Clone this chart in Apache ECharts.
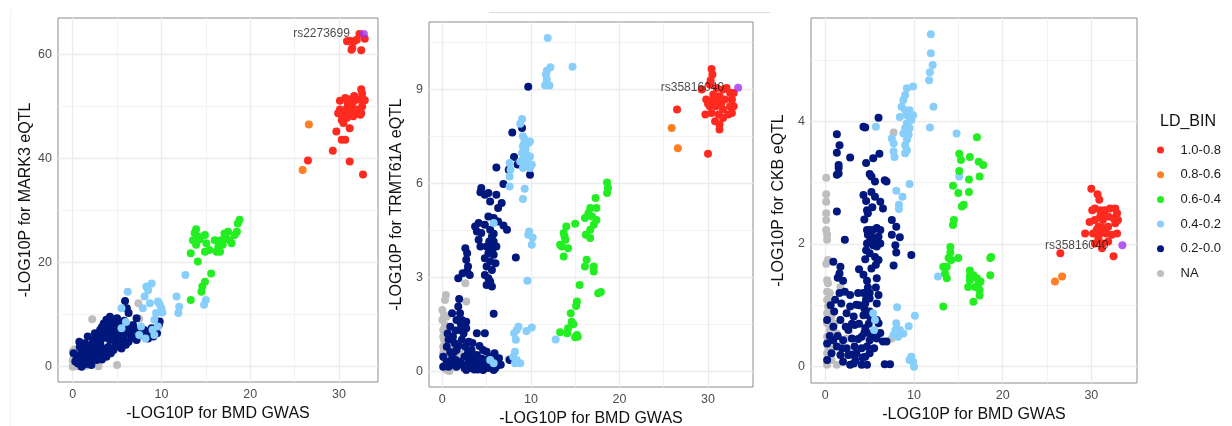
<!DOCTYPE html>
<html><head><meta charset="utf-8">
<script src="https://cdn.jsdelivr.net/npm/echarts@6/dist/echarts.min.js"></script>
<style>html,body{margin:0;padding:0;background:#fff}#c{width:1232px;height:426px}</style>
</head><body><div id="c"></div>
<script>
// ---------- categories / ticks ----------
const ldBins = ['1.0-0.8', '0.8-0.6', '0.6-0.4', '0.4-0.2', '0.2-0.0', 'NA'];
const xTitle = '-LOG10P for BMD GWAS';
const yTitles = ['-LOG10P for MARK3 eQTL', '-LOG10P for TRMT61A eQTL', '-LOG10P for CKB eQTL'];
const leadSnps = ['rs2273699', 'rs35816040', 'rs35816040'];
const xTicks = [0, 10, 20, 30];
const xMinorTicks = [5, 15, 25];
const mark3YTicks = [0, 20, 40, 60];
const mark3YMinor = [10, 30, 50];
const trmtYTicks = [0, 3, 6, 9];
const trmtYMinor = [1.5, 4.5, 7.5, 10.5];
const ckbYTicks = [0, 2, 4];
const ckbYMinor = [1, 3, 5];

// ---------- MARK3 panel ----------
const mark3Lead = [[32.8, 63.9]];
const mark3Red = [[32.3,63.9],[31.2,62.6],[31.7,62.5],[31.5,61.2],[31.4,60.9],[32.5,60.8],[32.9,63.0],[30.9,62.5],[32.0,62.8],[32.5,53.3],[31.2,51.3],[30.1,51.1],[30.7,51.6],[31.6,50.9],[32.2,51.3],[32.7,51.3],[32.6,50.0],[31.4,50.0],[30.9,49.7],[30.1,49.4],[30.5,48.4],[31.2,48.7],[32.0,49.4],[32.4,48.4],[30.3,47.4],[30.9,47.8],[31.6,48.1],[30.5,46.8],[31.2,45.8],[29.7,45.2],[30.3,43.6],[30.7,43.6],[29.3,41.5],[31.2,39.4],[26.5,39.6],[32.7,36.9],[31.7,52.0],[31.0,50.6],[29.9,48.7],[32.5,48.7],[32.9,51.2],[31.8,48.7],[32.6,52.5]];
const mark3Orange = [[26.6,46.5],[25.9,37.8]];
const mark3Green = [[13.74,25.7],[14.1,25.0],[13.55,24.3],[13.9,23.4],[14.9,25.3],[15.05,23.7],[15.4,22.4],[14.9,22.1],[13.3,21.8],[14.1,20.2],[15.6,17.9],[14.9,16.3],[14.6,15.4],[14.5,14.4],[13.3,12.8],[16.0,24.3],[16.4,23.0],[16.2,22.1],[16.7,24.3],[17.1,25.6],[17.5,25.9],[17.3,24.6],[16.9,23.4],[17.7,24.3],[17.9,23.7],[16.6,22.1],[18.6,27.5],[18.8,28.2],[18.5,25.9],[18.25,25.3],[13.9,26.4],[14.3,24.5]];
const mark3LightBlue = [[6.2,14.4],[8.3,15.4],[8.9,16.0],[8.1,13.5],[8.7,12.2],[7.9,11.2],[5.5,11.2],[9.6,12.5],[10.0,11.2],[9.4,10.3],[9.2,9.0],[9.0,7.1],[9.2,6.1],[7.7,7.7],[7.5,6.1],[5.5,7.4],[11.7,13.5],[12.0,11.5],[11.9,10.3],[12.7,17.6],[15.0,12.8],[14.8,11.9],[9.6,7.7],[8.5,14.7],[9.8,12.0],[10.1,10.4],[8.2,5.4],[6.0,8.6]];
const mark3Navy = [[5.9,12.6],[6.1,11.2],[6.3,10.3],[5.8,8.8],[7.2,9.3],[4.8,9.0],[4.2,9.6],[3.8,9.0],[3.5,8.3],[4.4,8.3],[5.0,8.0],[4.0,7.4],[3.1,7.1],[2.5,6.4],[3.5,6.4],[4.6,6.7],[5.3,7.1],[6.1,7.4],[7.0,7.1],[8.0,7.1],[8.3,6.4],[8.9,7.4],[9.7,8.0],[9.8,8.7],[9.1,5.8],[7.6,6.1],[6.6,5.8],[5.7,5.4],[5.0,4.8],[4.2,5.1],[3.1,4.5],[2.3,5.1],[2.0,3.8],[1.4,4.5],[0.75,4.8],[1.0,3.2],[1.6,2.6],[2.7,3.2],[3.5,3.5],[4.0,3.8],[4.6,3.2],[5.5,3.5],[5.3,4.5],[2.3,1.9],[3.1,2.2],[3.8,1.9],[1.2,1.3],[2.0,1.0],[1.0,0.0],[0.45,1.6],[0.1,2.6],[1.7,5.8],[3.3,5.8],[4.4,5.8],[3.8,6.4],[4.2,7.4],[3.7,8.0],[5.0,9.3],[2.9,3.8],[3.6,2.9],[4.8,4.2],[6.3,4.8],[7.2,5.1],[8.5,5.4],[9.5,6.4],[1.8,3.5],[0.8,2.2],[0.6,0.6],[2.1,0.3],[2.7,1.3],[6.1,6.4],[6.8,8.0],[0.8,3.8],[3.9,8.6],[4.5,7.8],[3.3,7.6],[2.8,5.6],[4.9,6.0],[5.6,6.2],[2.5,2.5],[3.3,1.4],[1.5,1.8],[4.3,2.6],[3.0,6.0],[3.5,7.0],[4.0,8.0],[4.5,9.0],[4.8,8.5],[4.2,8.8],[3.6,7.6],[4.0,6.8],[4.6,7.2],[5.2,7.6],[5.5,8.3],[3.2,5.2],[3.9,5.5],[4.6,5.4],[2.6,4.2],[2.0,2.8],[1.3,2.0],[0.7,1.1],[1.8,1.5],[2.6,2.0],[3.4,2.5],[4.2,3.3],[5.0,3.9],[6.0,4.2],[6.8,5.6],[7.8,6.6],[8.7,6.9],[9.3,7.2],[5.8,6.8],[6.5,6.9],[1.0,2.5],[0.3,1.0],[1.5,0.5],[3.0,3.0],[2.2,4.3]];
const mark3NA = [[0.0,0.0],[0.2,0.5],[0.4,1.0],[0.1,1.6],[0.3,2.2],[0.0,2.9],[0.6,2.6],[0.8,0.3],[1.0,1.9],[0.5,0.1],[1.2,0.6],[0.9,1.2],[0.2,3.3],[1.5,0.2],[2.9,0.1],[5.0,0.3],[2.2,9.1],[7.4,12.2],[7.5,9.2],[0.6,1.6],[0.0,1.2],[1.8,0.9]];

// ---------- TRMT61A panel ----------
const trmtLead = [[33.4, 9.06]];
const trmtRed = [[30.4,9.66],[30.5,9.48],[30.2,9.16],[29.3,9.0],[31.0,9.05],[31.7,9.0],[32.1,9.05],[32.5,8.89],[31.3,8.79],[30.6,8.68],[31.9,8.68],[32.7,8.68],[30.2,8.47],[30.9,8.47],[31.7,8.36],[32.5,8.47],[32.7,8.25],[29.7,8.2],[30.4,8.25],[31.2,8.2],[31.7,8.09],[30.8,7.99],[31.3,7.88],[31.3,7.72],[30.0,6.95],[26.5,8.36],[30.6,8.84],[29.8,8.68],[32.3,8.2],[31.5,8.57],[32.9,8.89],[32.9,8.47],[30.3,9.3],[31.0,8.6],[30.0,8.55]];
const trmtOrange = [[25.9,7.77],[26.6,7.12]];
const trmtGreen = [[18.6,6.03],[18.7,5.85],[18.6,5.69],[17.3,5.53],[17.4,5.21],[16.7,5.21],[16.5,5.05],[16.9,4.94],[16.1,4.89],[17.4,4.83],[17.1,4.68],[16.7,4.52],[16.2,4.36],[16.7,4.25],[15.0,4.71],[14.0,4.62],[13.7,4.41],[13.9,4.2],[13.5,3.98],[13.8,4.3],[14.2,3.93],[13.3,4.04],[13.7,3.66],[16.3,3.56],[16.1,3.34],[17.1,3.34],[17.1,3.18],[15.5,2.75],[17.6,2.49],[17.9,2.53],[15.2,2.22],[15.1,2.08],[14.5,1.85],[14.6,1.58],[14.8,1.5],[14.2,1.37],[13.3,1.24],[14.1,1.21],[15.2,1.15],[15.3,1.1],[15.0,1.08]];
const trmtLightBlue = [[11.9,10.65],[12.2,9.71],[11.8,9.6],[11.7,9.48],[11.8,9.32],[11.6,9.14],[12.1,9.13],[14.7,9.73],[9.0,8.06],[8.8,7.91],[9.1,7.51],[9.3,7.4],[9.1,7.19],[9.7,7.29],[9.9,7.34],[9.0,6.97],[9.5,6.92],[9.9,6.86],[9.1,6.76],[9.5,6.65],[9.1,6.49],[10.1,6.6],[8.8,6.7],[9.9,6.49],[7.6,6.65],[7.7,6.44],[7.6,6.22],[7.6,5.9],[9.3,5.83],[9.1,5.5],[5.8,4.73],[9.8,4.46],[9.7,4.36],[10.2,4.27],[10.1,4.04],[9.6,2.89],[10.1,1.39],[9.5,1.28],[8.6,1.42],[8.4,1.31],[8.1,1.21],[8.3,1.0],[12.8,1.01],[8.2,0.62],[8.0,0.46],[8.4,0.35],[8.8,0.25],[8.2,0.25],[5.4,0.35],[5.8,0.25],[9.4,7.1],[9.2,7.25],[9.6,6.8]];
const trmtNavy = [[9.7,9.09],[7.9,7.63],[9.0,7.77],[8.1,6.84],[8.5,6.6],[7.5,6.44],[9.9,6.28],[6.1,6.51],[6.9,5.98],[4.4,5.85],[4.3,5.72],[4.8,5.64],[5.2,5.69],[6.1,5.64],[5.4,5.42],[6.7,5.37],[6.3,5.21],[5.2,4.94],[5.8,4.89],[6.3,4.78],[4.8,4.68],[4.1,4.73],[3.7,4.62],[3.9,4.46],[4.4,4.41],[5.4,4.52],[5.8,4.39],[6.9,4.65],[7.3,4.52],[4.1,4.2],[4.3,3.98],[5.6,4.3],[5.3,4.14],[5.8,4.14],[5.0,3.98],[5.7,3.93],[6.1,3.98],[5.2,3.77],[5.8,3.72],[4.8,3.61],[5.4,3.5],[6.0,3.45],[5.0,3.34],[5.6,3.23],[4.8,3.07],[5.2,2.97],[5.0,2.75],[5.6,2.7],[5.4,2.86],[2.6,3.93],[2.8,3.77],[2.7,3.56],[2.9,3.34],[2.8,3.18],[1.8,2.97],[2.3,3.13],[3.1,3.07],[8.3,3.63],[5.8,1.83],[1.8,2.06],[2.0,1.85],[1.1,1.85],[1.6,1.63],[2.2,1.63],[2.7,1.58],[0.9,1.42],[2.0,1.31],[2.7,1.37],[3.9,1.21],[4.8,1.21],[1.2,1.1],[2.2,1.0],[3.0,0.94],[0.5,0.78],[1.6,0.67],[2.6,0.78],[3.3,0.67],[4.6,0.67],[5.0,0.62],[6.1,0.35],[6.3,0.19],[5.0,0.14],[3.9,0.14],[2.9,0.19],[1.6,0.14],[0.7,0.14],[2.0,0.3],[3.5,0.35],[4.3,0.25],[5.4,0.3],[1.1,0.4],[2.5,0.46],[3.9,0.51],[0.1,0.14],[0.1,0.46],[1.4,0.89],[0.7,1.0],[7.6,0.35],[4.4,0.4],[3.1,0.46],[5.9,0.57],[5.4,0.46],[2.7,0.03],[4.6,0.03],[5.8,0.03],[6.4,0.41],[3.4,0.14],[4.3,0.14],[1.3,0.6],[2.3,0.2],[3.7,0.3],[4.9,0.35],[6.0,0.1],[0.5,0.3],[1.0,0.2],[1.5,0.35],[2.5,0.1],[3.0,0.3],[3.6,0.05],[4.0,0.35],[4.8,0.2],[5.2,0.1],[5.6,0.4],[0.9,0.6],[1.8,0.8],[2.4,1.2],[1.5,1.3],[0.6,1.2],[1.9,2.3],[2.1,1.5],[3.4,0.9],[2.9,0.6],[4.2,0.8],[6.6,0.2],[5.5,0.15],[4.0,0.05],[3.2,0.1]];
const trmtNA = [[0.4,2.43],[2.6,2.81],[2.7,2.22],[0.0,1.95],[0.2,1.79],[0.0,1.63],[0.3,1.47],[0.1,1.31],[0.5,1.15],[0.2,0.99],[0.7,0.89],[0.1,0.78],[1.1,0.67],[0.1,0.57],[0.7,0.51],[0.3,0.35],[0.9,0.25],[0.1,0.14],[0.5,0.03],[1.4,0.14],[1.6,0.4],[2.0,0.57],[7.5,0.38],[0.1,1.1],[0.5,1.74],[1.1,0.94],[0.3,2.27],[0.6,1.4],[0.3,0.7],[0.8,0.0]];

// ---------- CKB panel ----------
const ckbLead = [[33.5, 1.98]];
const ckbRed = [[30.0,2.90],[30.7,2.81],[30.9,2.72],[30.1,2.55],[30.4,2.58],[31.0,2.55],[31.5,2.55],[32.1,2.58],[32.7,2.58],[32.9,2.5],[29.8,2.36],[30.4,2.39],[31.0,2.45],[31.3,2.39],[31.9,2.45],[32.5,2.42],[33.0,2.39],[30.8,2.28],[31.3,2.26],[31.9,2.28],[32.7,2.34],[29.3,2.17],[30.2,2.17],[31.0,2.17],[31.7,2.17],[32.3,2.15],[30.8,2.09],[31.3,2.01],[31.2,1.93],[32.5,1.80],[26.5,1.85],[30.4,2.01],[31.9,2.04],[32.9,2.17],[31.3,2.5],[30.6,2.23]];
const ckbOrange = [[25.9,1.39],[26.7,1.47]];
const ckbGreen = [[17.1,3.74],[15.1,3.47],[15.3,3.37],[16.3,3.42],[17.3,3.34],[17.8,3.29],[15.1,3.19],[17.4,3.1],[16.2,3.05],[14.4,2.95],[15.0,2.83],[16.2,2.85],[15.4,2.61],[15.6,2.64],[14.5,2.39],[14.4,2.31],[14.1,1.95],[14.1,1.86],[13.9,1.77],[14.2,1.74],[15.0,1.77],[13.3,1.63],[13.7,1.63],[13.5,1.52],[13.7,1.44],[13.3,0.98],[16.3,1.57],[16.7,1.49],[17.1,1.44],[16.3,1.41],[17.3,1.36],[16.1,1.3],[16.9,1.3],[17.4,1.25],[17.4,1.16],[16.7,1.06],[18.6,1.77],[18.7,1.79],[18.6,1.49],[16.3,1.48],[17.5,1.39]];
const ckbLightBlue = [[11.9,5.42],[11.9,5.11],[12.1,4.92],[11.8,4.8],[11.7,4.67],[12.2,4.24],[11.8,3.9],[9.9,4.57],[9.2,4.54],[9.0,4.43],[8.8,4.35],[8.6,4.24],[9.0,4.18],[9.5,4.18],[9.9,4.1],[9.2,4.1],[8.4,4.07],[9.7,4.02],[9.2,3.97],[9.0,3.89],[9.5,3.89],[8.8,3.8],[9.4,3.78],[9.2,3.7],[9.0,3.61],[9.2,3.53],[9.0,3.48],[7.5,3.72],[7.7,3.64],[7.7,3.51],[7.8,3.42],[5.7,3.91],[14.8,3.8],[15.1,3.1],[9.5,2.98],[8.0,2.87],[8.7,2.77],[8.3,2.64],[8.3,2.57],[12.7,1.47],[8.1,0.97],[10.1,0.83],[8.0,0.71],[7.9,0.6],[8.4,0.6],[8.8,0.54],[7.7,0.52],[8.2,0.49],[9.4,0.66],[5.4,0.87],[5.6,0.76],[5.5,0.6],[9.7,0.16],[9.9,0.08],[10.0,0.0],[9.5,0.11]];
const ckbNavy = [[6.0,4.06],[4.3,3.91],[4.5,3.9],[1.3,3.79],[1.6,3.61],[1.3,3.49],[2.8,3.41],[1.5,3.29],[1.5,3.24],[1.5,3.15],[1.3,3.13],[4.6,3.32],[5.4,3.4],[6.1,3.47],[5.0,3.14],[5.2,3.1],[5.6,3.02],[6.7,3.04],[6.9,3.02],[4.3,2.8],[5.2,2.85],[5.6,2.77],[6.2,2.69],[4.7,2.55],[4.8,2.5],[1.3,2.53],[6.5,2.58],[4.7,2.23],[5.0,2.23],[5.4,2.23],[5.8,2.26],[6.2,2.23],[4.8,2.15],[5.2,2.12],[5.6,2.09],[6.0,2.12],[4.7,2.01],[5.0,2.04],[5.4,1.98],[5.8,1.96],[6.2,2.01],[4.6,1.9],[5.0,1.85],[5.6,1.79],[6.0,1.74],[5.7,1.66],[7.5,2.39],[8.0,2.28],[7.5,2.15],[8.4,2.11],[7.9,1.98],[8.0,1.86],[9.7,1.82],[2.2,2.07],[7.7,1.65],[3.8,1.59],[1.7,1.63],[1.6,1.52],[0.9,1.71],[4.7,1.4],[5.8,1.44],[4.8,1.29],[5.7,1.29],[1.6,1.2],[2.8,1.17],[2.2,1.22],[3.7,1.2],[4.3,1.2],[5.0,1.2],[6.0,1.17],[5.0,1.11],[5.8,1.03],[1.1,1.09],[1.8,1.03],[2.8,0.98],[3.5,1.01],[4.5,1.03],[2.4,0.87],[3.2,0.82],[4.3,0.84],[5.0,0.9],[5.8,0.76],[6.0,0.71],[0.2,0.76],[0.9,0.65],[1.7,0.76],[2.6,0.6],[3.3,0.68],[4.5,0.63],[5.0,0.54],[4.1,0.49],[3.0,0.46],[2.0,0.43],[0.9,0.43],[0.2,0.38],[1.3,0.33],[2.4,0.3],[3.3,0.33],[4.1,0.3],[4.7,0.33],[5.0,0.22],[4.5,0.16],[3.5,0.22],[2.6,0.19],[1.7,0.19],[0.7,0.22],[0.2,0.11],[2.0,0.08],[3.2,0.05],[4.1,0.03],[4.7,0.03],[2.8,0.03],[6.7,0.04],[7.3,0.04],[5.8,0.46],[6.5,0.41],[6.9,0.41],[5.0,0.82],[5.4,0.49],[5.0,0.43],[4.4,0.95],[3.8,0.7],[4.6,1.1],[4.4,0.55],[0.5,0.5],[1.0,0.9],[1.4,0.5],[2.3,0.65],[3.0,0.7],[3.7,0.45],[4.2,0.15],[4.9,0.7],[1.9,0.3],[2.9,0.2],[3.8,1.0],[4.3,1.5],[4.5,1.75],[4.4,2.4],[5.3,2.6],[1.4,1.45],[0.6,1.0],[2.0,1.4],[4.6,2.7],[5.5,0.3],[6.2,0.55],[5.2,1.6],[3.4,0.1]];
const ckbNA = [[0.1,3.08],[0.1,2.81],[0.1,2.69],[0.1,2.5],[0.1,2.39],[0.1,2.23],[0.2,2.15],[0.2,2.07],[0.1,1.68],[0.3,1.74],[0.2,1.41],[0.3,1.36],[1.7,1.3],[0.2,1.22],[0.5,1.2],[0.2,1.09],[0.3,0.98],[0.2,0.87],[0.7,0.82],[0.2,0.71],[0.5,0.6],[1.3,0.54],[0.2,0.49],[0.9,0.38],[0.3,0.33],[0.2,0.22],[0.7,0.11],[0.2,0.03],[1.3,0.03],[2.0,0.16],[7.7,3.82],[7.5,0.46],[2.4,0.46],[0.6,0.3],[1.0,0.7],[0.4,0.9]];

// ---------- styles (not data) ----------
const binColors = { '1.0-0.8': '#FF2A1F', '0.8-0.6': '#FF7F24', '0.6-0.4': '#22EE22', '0.4-0.2': '#87CEFA', '0.2-0.0': '#00177D', 'NA': '#BEBEBE' };
const leadColor = '#A032F0';
const FONT = '"Liberation Sans", Arial, Helvetica, sans-serif';
const POINT = 8;

const panels = [
  { grid: { left: 58, top: 18, width: 320, height: 364 }, x: [-1.652, 34.39], y: [-2.945, 66.98], yTicks: mark3YTicks, yMinor: mark3YMinor,
    sets: { 'NA': mark3NA, '0.2-0.0': mark3Navy, '0.4-0.2': mark3LightBlue, '0.6-0.4': mark3Green, '0.8-0.6': mark3Orange, '1.0-0.8': mark3Red }, lead: mark3Lead },
  { grid: { left: 429, top: 22, width: 324, height: 365 }, x: [-1.505, 35.08], y: [-0.51, 11.16], yTicks: trmtYTicks, yMinor: trmtYMinor,
    sets: { 'NA': trmtNA, '0.2-0.0': trmtNavy, '0.4-0.2': trmtLightBlue, '0.6-0.4': trmtGreen, '0.8-0.6': trmtOrange, '1.0-0.8': trmtRed }, lead: trmtLead },
  { grid: { left: 811, top: 18, width: 326, height: 365 }, x: [-1.616, 35.15], y: [-0.266, 5.685], yTicks: ckbYTicks, yMinor: ckbYMinor,
    sets: { 'NA': ckbNA, '0.2-0.0': ckbNavy, '0.4-0.2': ckbLightBlue, '0.6-0.4': ckbGreen, '0.8-0.6': ckbOrange, '1.0-0.8': ckbRed }, lead: ckbLead }
];
const drawOrder = ['NA', '0.2-0.0', '0.4-0.2', '0.6-0.4', '0.8-0.6', '1.0-0.8'];

const grids = [], xAxes = [], yAxes = [], series = [];
panels.forEach((p, i) => {
  grids.push(Object.assign({ show: true, borderColor: '#8c8c8c', borderWidth: 1, backgroundColor: 'transparent', containLabel: false, outerBoundsMode: 'none' }, p.grid));
  const axisCommon = {
    gridIndex: i, type: 'value', splitLine: { show: false }, axisLine: { show: false },
    nameLocation: 'middle', nameTextStyle: { fontSize: 16, color: '#111', fontFamily: FONT }
  };
  xAxes.push(Object.assign({}, axisCommon, {
    min: p.x[0], max: p.x[1], name: xTitle, nameGap: 22,
    axisTick: { show: true, customValues: xTicks, length: 4, lineStyle: { color: '#444' } },
    axisLabel: { customValues: xTicks, color: '#4d4d4d', fontSize: 12.5, margin: 6, fontFamily: FONT }
  }));
  yAxes.push(Object.assign({}, axisCommon, {
    min: p.y[0], max: p.y[1], name: yTitles[i], nameGap: 24,
    axisTick: { show: true, customValues: p.yTicks, length: 4, lineStyle: { color: '#444' } },
    axisLabel: { customValues: p.yTicks, color: '#4d4d4d', fontSize: 12.5, margin: 6, fontFamily: FONT }
  }));
  const major = { color: '#EBEBEB', width: 1.3, type: 'solid' };
  const minor = { color: '#F0F0F0', width: 0.8, type: 'solid' };
  const lines = [];
  xMinorTicks.forEach(v => lines.push({ xAxis: v, lineStyle: minor }));
  p.yMinor.forEach(v => lines.push({ yAxis: v, lineStyle: minor }));
  xTicks.forEach(v => lines.push({ xAxis: v, lineStyle: major }));
  p.yTicks.forEach(v => lines.push({ yAxis: v, lineStyle: major }));
  series.push({
    type: 'scatter', name: 'grid' + i, xAxisIndex: i, yAxisIndex: i, data: [], silent: true, z: 1,
    markLine: { silent: true, symbol: 'none', z: 1, label: { show: false }, animation: false, data: lines }
  });
  drawOrder.forEach(bin => {
    series.push({
      type: 'scatter', name: bin, xAxisIndex: i, yAxisIndex: i, data: p.sets[bin],
      symbol: 'circle', symbolSize: POINT, itemStyle: { color: binColors[bin], opacity: 1 }, z: 3, silent: true
    });
  });
  series.push({
    type: 'scatter', name: 'lead' + i, xAxisIndex: i, yAxisIndex: i, data: p.lead,
    symbol: 'circle', symbolSize: POINT, itemStyle: { color: leadColor }, z: 4, silent: true,
    label: { show: true, position: 'left', distance: 10, formatter: leadSnps[i], fontSize: 12, color: '#1a1a1a', fontFamily: FONT }
  });
});

const chart = echarts.init(document.getElementById('c'), null, { renderer: 'canvas' });
chart.setOption({
  animation: false,
  backgroundColor: '#ffffff',
  textStyle: { fontFamily: FONT },
  title: { text: 'LD_BIN', left: 1160, top: 114, padding: 0, textStyle: { fontSize: 16, fontWeight: 'normal', color: '#111', fontFamily: FONT } },
  legend: {
    data: ldBins, orient: 'vertical', left: 1157, top: 142, padding: 0,
    icon: 'circle', itemWidth: 30, itemHeight: 7, itemGap: 8.7, selectedMode: false,
    textStyle: { fontSize: 13, color: '#1a1a1a', lineHeight: 16, fontFamily: FONT }
  },
  graphic: [
    { type: 'line', shape: { x1: 489, y1: 12.5, x2: 770, y2: 12.5 }, style: { stroke: '#dcdcdc', lineWidth: 1 }, silent: true },
    { type: 'line', shape: { x1: 10.5, y1: 10, x2: 10.5, y2: 426 }, style: { stroke: '#f2f2f2', lineWidth: 1 }, silent: true }
  ],
  grid: grids, xAxis: xAxes, yAxis: yAxes, series: series
});
</script></body></html>
